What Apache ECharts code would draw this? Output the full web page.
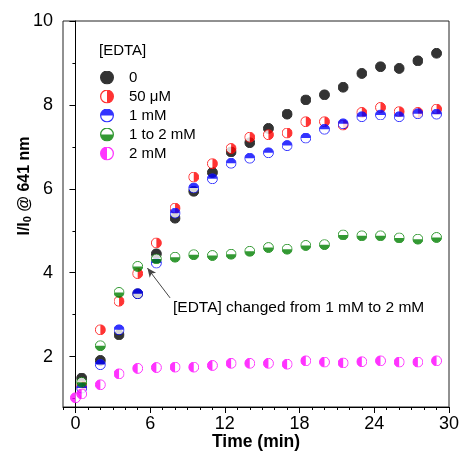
<!DOCTYPE html>
<html>
<head>
<meta charset="utf-8">
<script src="https://cdn.jsdelivr.net/npm/echarts@6/dist/echarts.min.js"></script>
<style>
  html, body { margin: 0; padding: 0; background: #fff; }
  #chart { width: 459px; height: 455px; }
</style>
</head>
<body>
<div id="chart"></div>
<script>
// time points (min)
var times = [0, 0.5, 2, 3.5, 5, 6.5, 8, 9.5, 11, 12.5, 14, 15.5, 17, 18.5, 20, 21.5, 23, 24.5, 26, 27.5, 29];
// I/I0 for each [EDTA]
var edta0    = [null, 1.49, 1.91, 2.52, 3.50, 4.45, 5.30, 5.94, 6.39, 6.88, 7.10, 7.44, 7.78, 8.12, 8.24, 8.42, 8.75, 8.91, 8.87, 9.05, 9.23];
var edta50uM = [null, 1.30, 2.64, 3.32, 3.98, 4.71, 5.54, 6.28, 6.60, 6.96, 7.23, 7.29, 7.33, 7.60, 7.60, 7.52, 7.82, 7.94, 7.84, 7.82, 7.90];
var edta1mM  = [null, 1.25, 1.81, 2.64, 3.50, 4.23, 5.42, 6.02, 6.24, 6.61, 6.73, 6.86, 7.03, 7.21, 7.42, 7.55, 7.72, 7.76, 7.72, 7.79, 7.78];
var edta1to2 = [null, 1.39, 2.26, 3.53, 4.15, 4.33, 4.37, 4.43, 4.41, 4.44, 4.51, 4.60, 4.56, 4.65, 4.67, 4.90, 4.88, 4.88, 4.83, 4.80, 4.84];
var edta2mM  = [1.02, 1.11, 1.33, 1.59, 1.72, 1.74, 1.75, 1.75, 1.79, 1.84, 1.84, 1.84, 1.82, 1.90, 1.87, 1.85, 1.88, 1.90, 1.87, 1.87, 1.90];

var seriesNames = ['0', '50 \u03bcM', '1 mM', '1 to 2 mM', '2 mM'];
var seriesColors = ['#000000', '#ff0000', '#0000ff', '#008000', '#ff00ff'];
var filledHalf = ['full', 'right', 'top', 'bottom', 'left'];

// tick labels
var xTicks = [0, 6, 12, 18, 24, 30];
var xMinorTicks = [-1, 1, 2, 3, 4, 5, 7, 8, 9, 10, 11, 13, 14, 15, 16, 17, 19, 20, 21, 22, 23, 25, 26, 27, 28, 29];
var yTicks = [2, 4, 6, 8, 10];
var yMinorTicks = [1, 3, 5, 7, 9];

var annotationText = '[EDTA] changed from 1 mM to 2 mM';
var arrowFrom = [7.6, 3.40];
var arrowTo = [5.78, 4.11];

var font = 'Arial, "Liberation Sans", sans-serif';

// half filled circle marker, drawn as a small svg image at its final size
function marker(color, side, size) {
    var half = {
        full: '',
        right: 'M11 1A10 10 0 0 1 11 21Z',
        left: 'M11 1A10 10 0 0 0 11 21Z',
        top: 'M1 11A10 10 0 0 1 21 11Z',
        bottom: 'M1 11A10 10 0 0 0 21 11Z'
    }[side];
    var svg = '<svg xmlns="http://www.w3.org/2000/svg" width="' + size + '" height="' + size + '" viewBox="0 0 22 22">' +
        '<circle cx="11" cy="11" r="10" fill="' + (side === 'full' ? color : '#ffffff') +
        '" stroke="' + color + '" stroke-width="2"/>' +
        (half ? '<path d="' + half + '" fill="' + color + '"/>' : '') + '</svg>';
    return 'image://data:image/svg+xml;charset=utf-8,' + encodeURIComponent(svg);
}

function pairs(ys) {
    var out = [];
    for (var i = 0; i < times.length; i++) {
        if (ys[i] != null) out.push([times[i], ys[i]]);
    }
    return out;
}

var values = [edta0, edta50uM, edta1mM, edta1to2, edta2mM];

var series = [];
var legendData = [];
for (var i = 0; i < values.length; i++) {
    series.push({
        name: seriesNames[i],
        type: 'scatter',
        symbol: marker(seriesColors[i], filledHalf[i], 11),
        symbolSize: 11,
        data: pairs(values[i])
    });
    legendData.push({ name: seriesNames[i], icon: marker(seriesColors[i], filledHalf[i], 14) });
}
// arrow of the annotation
series[3].markLine = {
    silent: true,
    symbol: ['none', 'arrow'],
    symbolSize: [6, 9],
    label: { show: false },
    lineStyle: { color: '#444', width: 1, type: 'solid' },
    data: [[{ coord: arrowFrom }, { coord: arrowTo }]]
};

var myChart = echarts.init(document.getElementById('chart'));
var option = {
    animation: false,
    textStyle: { fontFamily: font },
    grid: {
        left: 63, right: 10, top: 21, bottom: 48,
        outerBoundsMode: 'none',
        show: true,
        borderColor: '#222',
        borderWidth: 1
    },
    legend: {
        orient: 'vertical',
        left: 95,
        top: 65,
        itemWidth: 14,
        itemHeight: 14,
        itemGap: 4,
        selectedMode: false,
        data: legendData,
        textStyle: { fontSize: 15, color: '#000', fontFamily: font, lineHeight: 14, padding: [0, 0, 0, 10] }
    },
    graphic: [
        { type: 'text', left: 99, top: 43, style: { text: '[EDTA]', font: '15px ' + font, fill: '#000' } },
        { type: 'text', left: 173, top: 300, style: { text: annotationText, font: '15.5px ' + font, fill: '#000' } },
        // y axis title with subscript
        {
            type: 'text', x: 24, y: 186, rotation: Math.PI / 2,
            style: {
                text: '{m|I/I}{sub|0}{m| @ 641 nm}',
                align: 'center', verticalAlign: 'middle',
                rich: {
                    m: { font: 'bold 16px ' + font, fill: '#000', verticalAlign: 'bottom', lineHeight: 18 },
                    sub: { font: 'bold 11px ' + font, fill: '#000', verticalAlign: 'bottom', lineHeight: 8 }
                }
            }
        }
    ],
    xAxis: [{
        type: 'value',
        min: -1,
        max: 30,
        name: 'Time (min)',
        nameLocation: 'middle',
        nameGap: 26,
        nameMoveOverlap: false,
        nameTextStyle: { fontSize: 17.5, fontWeight: 'bold', color: '#000' },
        axisLine: { lineStyle: { color: '#000' } },
        axisTick: { customValues: xTicks, length: 6, lineStyle: { color: '#000' } },
        axisLabel: { customValues: xTicks, fontSize: 18, color: '#000', margin: 8 },
        splitLine: { show: false }
    }, {
        type: 'value',
        min: -1,
        max: 30,
        position: 'bottom',
        axisLine: { show: false },
        axisTick: { customValues: xMinorTicks, length: 3, lineStyle: { color: '#000' } },
        axisLabel: { show: false },
        splitLine: { show: false }
    }],
    yAxis: [{
        type: 'value',
        min: 0.8,
        max: 10,
        axisLine: { lineStyle: { color: '#000' } },
        axisTick: { customValues: yTicks, length: 6, lineStyle: { color: '#000' } },
        axisLabel: { customValues: yTicks, fontSize: 18, color: '#000', margin: 10 },
        splitLine: { show: false }
    }, {
        type: 'value',
        min: 0.8,
        max: 10,
        position: 'left',
        axisLine: { show: false },
        axisTick: { customValues: yMinorTicks, length: 3, lineStyle: { color: '#000' } },
        axisLabel: { show: false },
        splitLine: { show: false }
    }],
    series: series
};
myChart.setOption(option);
</script>
</body>
</html>
